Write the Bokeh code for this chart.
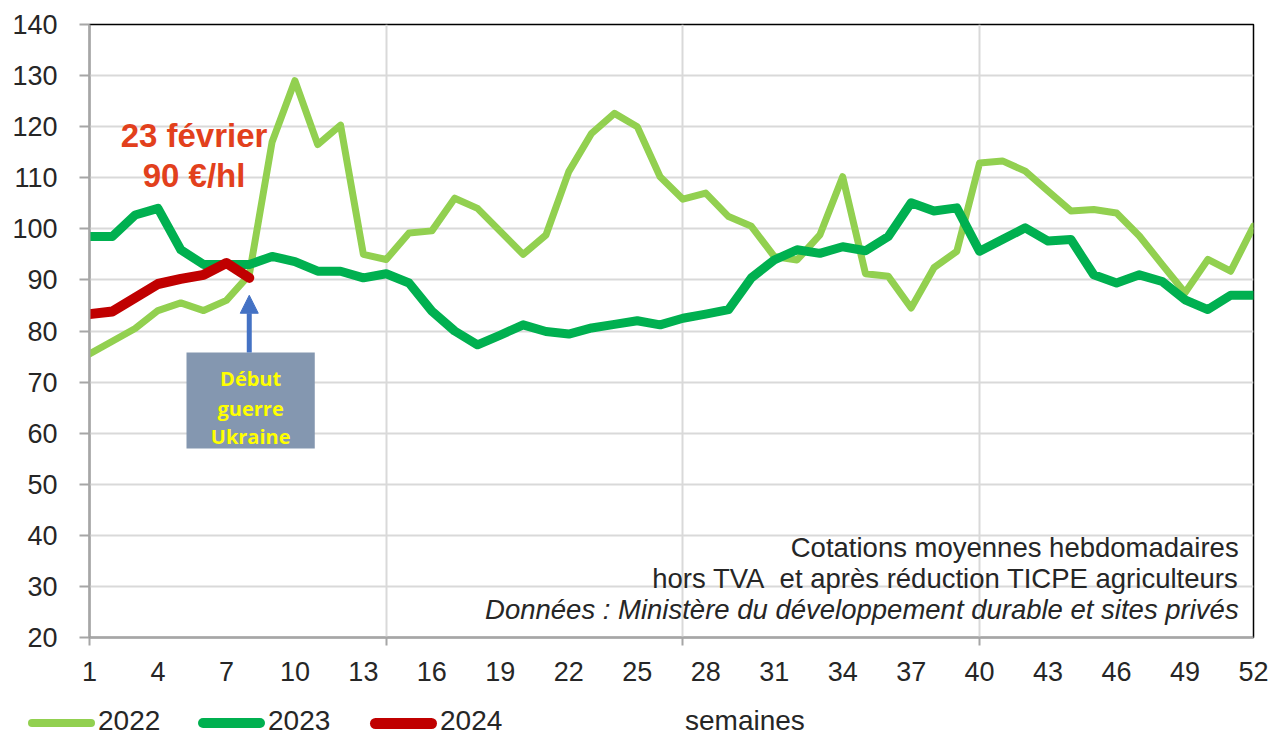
from bokeh.plotting import figure
from bokeh.layouts import column
from bokeh.models import (Range1d, FixedTicker, Label, BoxAnnotation, Arrow, NormalHead, Div)
from bokeh.embed import file_html
from bokeh.resources import INLINE

weeks = list(range(1, 53))
y2022 = [75.5, 78, 80.5, 84, 85.5, 84, 86, 91, 117, 129,
         116.5, 120.3, 95, 94, 99.2, 99.6, 106, 104, 99.5, 95,
         98.8, 111.2, 118.7, 122.6, 120, 110.2, 105.8, 107, 102.4, 100.5,
         94.6, 93.9, 98.8, 110.2, 91.2, 90.7, 84.5, 92.4, 95.6, 112.9,
         113.3, 111.3, 107.4, 103.5, 103.8, 103.1, 98.6, 93, 87.5, 94,
         91.7, 100.5]
y2023 = [98.5, 98.5, 102.7, 104, 95.9, 93, 93, 93, 94.6, 93.6,
         91.7, 91.7, 90.4, 91.2, 89.4, 83.9, 80, 77.3, 79.2, 81.2,
         79.9, 79.4, 80.6, 81.3, 82, 81.2, 82.5, 83.3, 84.2, 90.4,
         93.9, 95.9, 95.2, 96.5, 95.7, 98.5, 105.1, 103.5, 104.1, 95.6,
         97.9, 100.2, 97.6, 97.9, 91, 89.4, 91, 89.7, 86.1, 84.2,
         87, 87]
weeks2024 = list(range(1, 9))
y2024 = [83.3, 83.8, 86.5, 89.2, 90.2, 91, 93.3, 90.4]

series_names = ["2022", "2023", "2024"]
series_colors = ["#92D050", "#00B050", "#C00000"]
series_widths = [7, 9, 10]
x_tick_labels = list(range(1, 53, 3))
y_ticks = list(range(20, 141, 10))
week_grid = [14, 27, 40]

FONT = "Liberation Sans"
TXT = "#262626"

p = figure(width=1270, height=700, x_range=Range1d(1, 52), y_range=Range1d(20, 140),
           output_backend="svg", toolbar_location=None,
           min_border_left=89, min_border_right=17, min_border_top=24, min_border_bottom=63)
p.background_fill_color = "white"
p.border_fill_color = "white"
p.outline_line_color = "black"
p.outline_line_width = 1.5

# axes
p.yaxis.ticker = FixedTicker(ticks=y_ticks)
p.yaxis.major_tick_out = 10
p.yaxis.major_tick_in = 0
p.yaxis.minor_tick_line_color = None
p.yaxis.axis_line_color = "#A6A6A6"
p.yaxis.axis_line_width = 2
p.yaxis.major_tick_line_color = "#A6A6A6"
p.yaxis.major_tick_line_width = 2
p.yaxis.major_label_text_font = FONT
p.yaxis.major_label_text_font_size = "27px"
p.yaxis.major_label_text_color = TXT
p.yaxis.major_label_standoff = 22

p.xaxis.ticker = FixedTicker(ticks=x_tick_labels, minor_ticks=[1, 14, 27, 40])
p.xaxis.major_tick_line_color = None
p.xaxis.major_tick_out = 0
p.xaxis.major_tick_in = 0
p.xaxis.minor_tick_line_color = "#A6A6A6"
p.xaxis.minor_tick_line_width = 2
p.xaxis.minor_tick_out = 8
p.xaxis.minor_tick_in = 0
p.xaxis.axis_line_color = "#A6A6A6"
p.xaxis.axis_line_width = 2
p.xaxis.major_label_text_font = FONT
p.xaxis.major_label_text_font_size = "27px"
p.xaxis.major_label_text_color = TXT
p.xaxis.major_label_standoff = 16

p.ygrid.ticker = FixedTicker(ticks=y_ticks)
p.ygrid.grid_line_color = "#D9D9D9"
p.ygrid.grid_line_width = 2
p.xgrid.ticker = FixedTicker(ticks=week_grid)
p.xgrid.grid_line_color = "#D9D9D9"
p.xgrid.grid_line_width = 2

p.line(weeks, y2022, line_color=series_colors[0], line_width=series_widths[0],
       line_join="round", line_cap="round")
p.line(weeks, y2023, line_color=series_colors[1], line_width=series_widths[1],
       line_join="round", line_cap="round")
p.line(weeks2024, y2024, line_color=series_colors[2], line_width=series_widths[2],
       line_join="round", line_cap="round")

# annotation box
p.add_layout(BoxAnnotation(left=5.25, right=10.87, bottom=57.0, top=75.8,
                           fill_color="#8497B0", fill_alpha=1, line_color=None))
for t, yy in [("Début", 70.7), ("guerre", 64.9), ("Ukraine", 59.4)]:
    p.add_layout(Label(x=8.06, y=yy, text=t, text_font="Open Sans", text_font_style="bold",
                       text_font_size="20px", text_color="#FFFF00", text_align="center",
                       text_baseline="middle"))
p.add_layout(Arrow(end=NormalHead(size=18, fill_color="#4472C4", line_color="#4472C4"),
                   x_start=8, y_start=75.8, x_end=8, y_end=87.0,
                   line_color="#4472C4", line_width=5))

# red annotation
for t, yy in [("23 février", 118.3), ("90 €/hl", 110.4)]:
    p.add_layout(Label(x=5.58, y=yy, text=t, text_font=FONT, text_font_style="bold",
                       text_font_size="33px", text_color="#E2401C", text_align="center",
                       text_baseline="middle"))

# source text
for t, yy, st in [("Cotations moyennes hebdomadaires", 37.6, "normal"),
                  ("hors TVA\u00a0 et après réduction TICPE agriculteurs", 31.6, "normal"),
                  ("Données : Ministère du développement durable et sites privés", 25.5, "italic")]:
    p.add_layout(Label(x=51.35, y=yy, text=t, text_font=FONT, text_font_style=st,
                       text_font_size="27.5px", text_color=TXT, text_align="right",
                       text_baseline="middle"))

# legend strip below the chart
swatch_left = [28, 198, 370]
parts = []
for name, col, w, left in zip(series_names, series_colors, series_widths, swatch_left):
    h = w + 1
    parts.append(
        f'<span style="position:absolute;left:{left}px;top:{23 - h / 2}px;width:67px;height:{h}px;'
        f'border-radius:{h / 2}px;background:{col};"></span>'
        f'<span style="position:absolute;left:{left + 70}px;top:7px;line-height:28px;">{name}</span>')
parts.append('<span style="position:absolute;left:685px;top:7px;line-height:28px;">semaines</span>')
legend_html = ('<div style="position:relative;width:1270px;height:37px;'
               f'font-family:\'{FONT}\';font-size:28px;color:{TXT};background:white;">'
               + "".join(parts) + '</div>')
lg = Div(text=legend_html, width=1270, height=37, margin=0)

layout = column(p, lg, spacing=0)
open("out.html", "w").write(file_html(layout, INLINE))
